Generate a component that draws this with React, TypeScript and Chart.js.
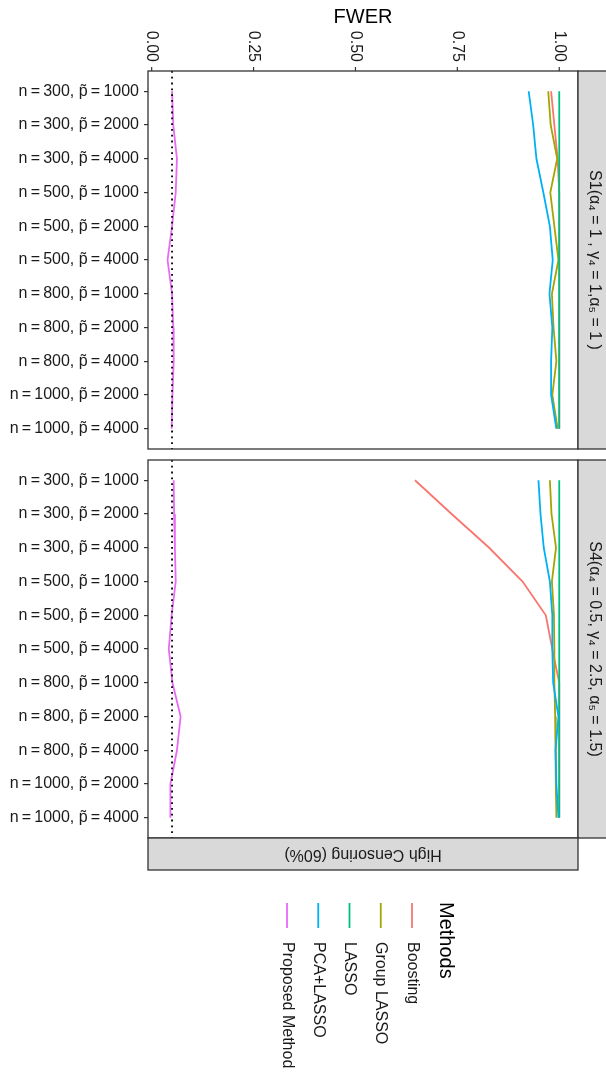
import React, { useEffect, useRef } from "react";
import { Chart, registerables } from "chart.js";

Chart.register(...registerables);

const SP = "\u2009";
const categories = [
  `n${SP}=${SP}300, p\u0303${SP}=${SP}1000`,
  `n${SP}=${SP}300, p\u0303${SP}=${SP}2000`,
  `n${SP}=${SP}300, p\u0303${SP}=${SP}4000`,
  `n${SP}=${SP}500, p\u0303${SP}=${SP}1000`,
  `n${SP}=${SP}500, p\u0303${SP}=${SP}2000`,
  `n${SP}=${SP}500, p\u0303${SP}=${SP}4000`,
  `n${SP}=${SP}800, p\u0303${SP}=${SP}1000`,
  `n${SP}=${SP}800, p\u0303${SP}=${SP}2000`,
  `n${SP}=${SP}800, p\u0303${SP}=${SP}4000`,
  `n${SP}=${SP}1000, p\u0303${SP}=${SP}2000`,
  `n${SP}=${SP}1000, p\u0303${SP}=${SP}4000`,
];

const methods = ["Boosting", "Group LASSO", "LASSO", "PCA+LASSO", "Proposed Method"];
const methodColors = ["#F8766D", "#A3A500", "#00BF7D", "#00B0F6", "#E76BF3"];

const xTickValues = [0, 0.25, 0.5, 0.75, 1];
const xTickLabels = ["0.00", "0.25", "0.50", "0.75", "1.00"];
const referenceLevel = 0.05;

const axisTitle = "FWER";
const legendTitle = "Methods";
const censoringLabel = "High Censoring (60%)";
const panelLabels = [
  "S1(\u03B1\u2084 = 1 , \u03B3\u2084 = 1,\u03B1\u2085 = 1 )",
  "S4(\u03B1\u2084 = 0.5, \u03B3\u2084 = 2.5, \u03B1\u2085 = 1.5)",
];

// Panel S1
const s1Boosting = [0.98, 0.988, 0.996, 1, 1, 1, 1, 1, 1, 1, 1];
const s1GroupLasso = [0.973, 0.979, 0.995, 0.978, 0.988, 0.998, 0.982, 0.986, 0.993, 0.983, 0.996];
const s1Lasso = [1, 1, 1, 1, 1, 1, 1, 1, 1, 1, 1];
const s1PcaLasso = [0.925, 0.936, 0.944, 0.961, 0.977, 0.984, 0.976, 0.983, 0.98, 0.98, 0.993];
const s1Proposed = [0.05, 0.053, 0.062, 0.059, 0.05, 0.039, 0.05, 0.053, 0.054, 0.051, 0.049];

// Panel S4
const s4Boosting = [0.646, 0.736, 0.828, 0.91, 0.967, 0.983, 1, 1, 1, 1, 1];
const s4GroupLasso = [0.977, 0.981, 0.992, 0.982, 0.987, 0.988, 0.988, 0.99, 0.991, 0.992, 0.993];
const s4Lasso = [1, 1, 1, 1, 1, 1, 1, 1, 1, 1, 1];
const s4PcaLasso = [0.949, 0.954, 0.962, 0.977, 0.983, 0.983, 0.985, 0.998, 0.991, 0.993, 0.998];
const s4Proposed = [0.054, 0.055, 0.057, 0.059, 0.049, 0.042, 0.051, 0.071, 0.062, 0.046, 0.046];

const FONT = "'Liberation Sans', Arial, Helvetica, sans-serif";
const TEXT = "#1A1A1A";
const BORDER = "#333333";
const STRIP = "#D9D9D9";
const SMALL = 16;
const LARGE = 20;

type PanelSpec = {
  series: number[][];
  stripLabel: string;
  topAxis: boolean;
  bottomStrip: boolean;
  legend: boolean;
  padding: { top: number; bottom: number };
};

function makeDecor(spec: PanelSpec) {
  return {
    id: "decor",
    afterDraw(chart: any) {
      const ctx: CanvasRenderingContext2D = chart.ctx;
      const ca = chart.chartArea;
      const xs = chart.scales.x;
      ctx.save();
      // panel border
      ctx.strokeStyle = BORDER;
      ctx.lineWidth = 1.3;
      ctx.strokeRect(ca.left, ca.top, ca.right - ca.left, ca.bottom - ca.top);

      // right strip
      const sw = 30;
      ctx.fillStyle = STRIP;
      ctx.fillRect(ca.right, ca.top, sw, ca.bottom - ca.top);
      ctx.strokeRect(ca.right, ca.top, sw, ca.bottom - ca.top);
      ctx.fillStyle = TEXT;
      ctx.font = `${SMALL}px ${FONT}`;
      ctx.save();
      ctx.translate(ca.right + 16, (ca.top + ca.bottom) / 2);
      ctx.rotate(Math.PI / 2);
      ctx.textAlign = "center";
      ctx.textBaseline = "middle";
      ctx.fillText(spec.stripLabel, 0, 0);
      ctx.restore();

      if (spec.topAxis) {
        ctx.strokeStyle = BORDER;
        ctx.lineWidth = 1.2;
        xTickValues.forEach((v, i) => {
          const px = xs.getPixelForValue(v);
          ctx.beginPath();
          ctx.moveTo(px, ca.top - 4);
          ctx.lineTo(px, ca.top);
          ctx.stroke();
          ctx.save();
          ctx.translate(px, ca.top - 9);
          ctx.rotate(Math.PI / 2);
          ctx.textAlign = "right";
          ctx.textBaseline = "middle";
          ctx.fillStyle = TEXT;
          ctx.font = `${SMALL}px ${FONT}`;
          ctx.fillText(xTickLabels[i], 0, 0);
          ctx.restore();
        });
        ctx.fillStyle = "#000";
        ctx.font = `${LARGE}px ${FONT}`;
        ctx.textAlign = "center";
        ctx.textBaseline = "middle";
        ctx.fillText(axisTitle, (ca.left + ca.right) / 2, 17);
      }

      if (spec.bottomStrip) {
        const sh = 32;
        ctx.fillStyle = STRIP;
        ctx.fillRect(ca.left, ca.bottom, ca.right - ca.left, sh);
        ctx.strokeStyle = BORDER;
        ctx.lineWidth = 1.3;
        ctx.strokeRect(ca.left, ca.bottom, ca.right - ca.left, sh);
        ctx.save();
        ctx.translate((ca.left + ca.right) / 2, ca.bottom + sh / 2);
        ctx.rotate(Math.PI);
        ctx.fillStyle = TEXT;
        ctx.font = `${SMALL}px ${FONT}`;
        ctx.textAlign = "center";
        ctx.textBaseline = "middle";
        ctx.fillText(censoringLabel, 0, 0);
        ctx.restore();
      }

      if (spec.legend) {
        const baseY = ca.bottom + 64;
        ctx.save();
        ctx.translate(446, baseY);
        ctx.rotate(Math.PI / 2);
        ctx.fillStyle = "#000";
        ctx.font = `${LARGE}px ${FONT}`;
        ctx.textAlign = "left";
        ctx.textBaseline = "middle";
        ctx.fillText(legendTitle, 0, 0);
        ctx.restore();
        methods.forEach((m, i) => {
          const lx = 412 - i * 31.25;
          ctx.strokeStyle = methodColors[i];
          ctx.lineWidth = 1.8;
          ctx.beginPath();
          ctx.moveTo(lx, baseY + 1);
          ctx.lineTo(lx, baseY + 26);
          ctx.stroke();
          ctx.save();
          ctx.translate(lx, baseY + 40);
          ctx.rotate(Math.PI / 2);
          ctx.fillStyle = TEXT;
          ctx.font = `${SMALL}px ${FONT}`;
          ctx.textAlign = "left";
          ctx.textBaseline = "middle";
          ctx.fillText(m, 0, 0);
          ctx.restore();
        });
      }
      ctx.restore();
    },
  };
}

function buildConfig(spec: PanelSpec): any {
  const datasets: any[] = spec.series.map((vals, i) => ({
    label: methods[i],
    data: vals.map((v, j) => ({ x: v, y: j })),
    borderColor: methodColors[i],
    backgroundColor: methodColors[i],
    borderWidth: 1.8,
    pointRadius: 0,
    showLine: true,
    tension: 0,
    order: methods.length - i,
  }));
  datasets.push({
    label: "reference",
    data: [
      { x: referenceLevel, y: -0.6 },
      { x: referenceLevel, y: categories.length - 0.4 },
    ],
    borderColor: "#000000",
    borderWidth: 1.8,
    borderDash: [1.8, 4],
    pointRadius: 0,
    showLine: true,
    order: 0,
  });
  return {
    type: "scatter",
    data: { datasets },
    options: {
      responsive: false,
      animation: false,
      layout: { padding: { top: spec.padding.top, bottom: spec.padding.bottom, left: 0, right: 28 } },
      plugins: { legend: { display: false }, tooltip: { enabled: false } },
      scales: {
        x: {
          type: "linear",
          display: false,
          min: -0.009,
          max: 1.046,
        },
        y: {
          type: "linear",
          min: -0.6,
          max: categories.length - 0.4,
          reverse: true,
          afterBuildTicks: (s: any) => {
            s.ticks = categories.map((_, i) => ({ value: i }));
          },
          afterFit: (s: any) => {
            s.width = 148;
            s.paddingTop = 0;
            s.paddingBottom = 0;
          },
          ticks: {
            autoSkip: false,
            padding: 5,
            color: TEXT,
            font: { size: SMALL, family: FONT },
            callback: (_v: any, idx: number) => categories[idx],
          },
          grid: {
            drawOnChartArea: false,
            drawTicks: true,
            tickLength: 4,
            color: BORDER,
            lineWidth: 1.2,
          },
          border: { display: false },
        },
      },
    },
    plugins: [makeDecor(spec)],
  };
}

function Panel(props: { spec: PanelSpec; top: number; height: number }) {
  const ref = useRef<HTMLCanvasElement | null>(null);
  useEffect(() => {
    if (!ref.current) return;
    const chart = new Chart(ref.current, buildConfig(props.spec));
    return () => chart.destroy();
  }, []);
  return (
    <canvas
      ref={ref}
      width={606}
      height={props.height}
      style={{ position: "absolute", left: 0, top: props.top, width: 606, height: props.height }}
    />
  );
}

const panelS1: PanelSpec = {
  series: [s1Boosting, s1GroupLasso, s1Lasso, s1PcaLasso, s1Proposed],
  stripLabel: panelLabels[0],
  topAxis: true,
  bottomStrip: false,
  legend: false,
  padding: { top: 71, bottom: 6 },
};

const panelS4: PanelSpec = {
  series: [s4Boosting, s4GroupLasso, s4Lasso, s4PcaLasso, s4Proposed],
  stripLabel: panelLabels[1],
  topAxis: false,
  bottomStrip: true,
  legend: true,
  padding: { top: 5, bottom: 234 },
};

export default function App() {
  return (
    <div style={{ position: "absolute", left: 0, top: 0, width: 606, height: 1072, background: "#fff", overflow: "hidden" }}>
      <Panel spec={panelS1} top={0} height={455} />
      <Panel spec={panelS4} top={455} height={617} />
    </div>
  );
}
